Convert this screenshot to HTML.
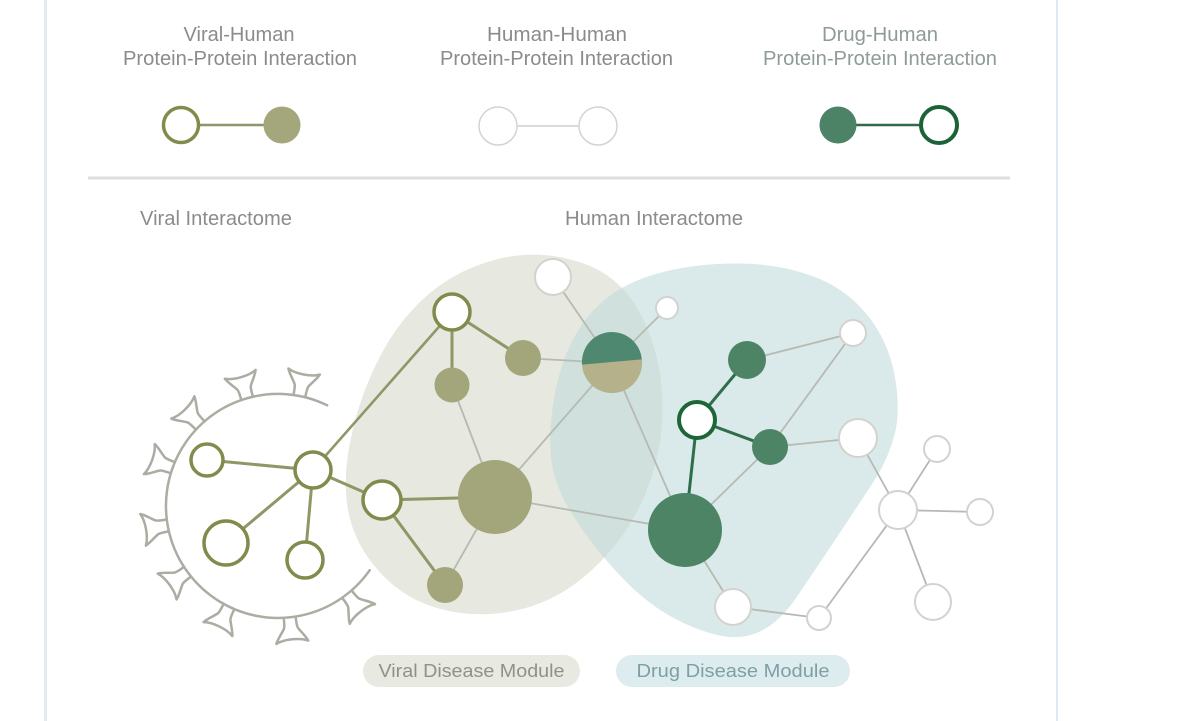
<!DOCTYPE html>
<html>
<head>
<meta charset="utf-8">
<style>
  html,body{margin:0;padding:0;background:#ffffff;}
  body{width:1200px;height:721px;overflow:hidden;}
  svg{display:block;}
  text{font-family:"Liberation Sans", Arial, sans-serif;}
</style>
</head>
<body>
<svg width="1200" height="721" viewBox="0 0 1200 721" xmlns="http://www.w3.org/2000/svg">
  <defs>
    <path id="spk" d="M -6,0 C -6,-5 -6,-9 -7,-11 C -10,-16 -14,-20 -16,-25 C -8,-21 8,-21 16,-25 C 14,-20 10,-16 7,-11 C 6,-9 6,-5 6,0"/>
  </defs>
  <rect x="0" y="0" width="1200" height="721" fill="#ffffff"/>
  <!-- frame lines -->
  <rect x="44" y="0" width="3" height="721" fill="#e4eaed"/>
  <rect x="1056" y="0" width="2" height="721" fill="#e0e8f1"/>

  <!-- Legend titles -->
  <g fill="#8b8b8b" font-size="20" text-anchor="middle">
    <text x="239" y="41" textLength="111" lengthAdjust="spacingAndGlyphs">Viral-Human</text>
    <text x="240" y="65" textLength="234" lengthAdjust="spacingAndGlyphs">Protein-Protein Interaction</text>
    <text x="557" y="41" textLength="140" lengthAdjust="spacingAndGlyphs">Human-Human</text>
    <text x="556.5" y="65" textLength="233" lengthAdjust="spacingAndGlyphs">Protein-Protein Interaction</text>
  </g>
  <g fill="#8e9b97" font-size="20" text-anchor="middle">
    <text x="880" y="41" textLength="116" lengthAdjust="spacingAndGlyphs">Drug-Human</text>
    <text x="880" y="65" textLength="234" lengthAdjust="spacingAndGlyphs">Protein-Protein Interaction</text>
  </g>

  <!-- Legend symbols -->
  <line x1="199" y1="125" x2="264" y2="125" stroke="#8d9668" stroke-width="2.5"/>
  <circle cx="181" cy="125" r="17.5" fill="#ffffff" stroke="#7f8c4c" stroke-width="3.5"/>
  <circle cx="282" cy="125" r="18.5" fill="#a3a77b"/>

  <line x1="517" y1="126" x2="579" y2="126" stroke="#cfcfcf" stroke-width="1.5"/>
  <circle cx="498" cy="126" r="19" fill="#ffffff" stroke="#d3d3d3" stroke-width="1.5"/>
  <circle cx="598" cy="126" r="19" fill="#ffffff" stroke="#d3d3d3" stroke-width="1.5"/>

  <line x1="856" y1="125" x2="920" y2="125" stroke="#2f6b48" stroke-width="2.5"/>
  <circle cx="838" cy="125" r="18.5" fill="#4c8265"/>
  <circle cx="939" cy="125" r="18" fill="#ffffff" stroke="#1b6236" stroke-width="4"/>

  <!-- separator -->
  <rect x="88" y="176.5" width="922" height="3" fill="#dedede"/>

  <!-- section labels -->
  <g fill="#8b8b8b" font-size="20">
    <text x="140" y="225" textLength="152" lengthAdjust="spacingAndGlyphs">Viral Interactome</text>
    <text x="565" y="225" textLength="178" lengthAdjust="spacingAndGlyphs">Human Interactome</text>
  </g>

  <!-- Modules (blobs) -->
  <path d="M 351,437.5 Q 360,395 380,356.5 Q 400,318 430,293 Q 460,268 500,258.5 Q 540,249 581,262.5 Q 622,276 642,317 Q 662,358 662.5,405 Q 663,452 645,494.5 Q 627,537 593.5,568.5 Q 560,600 520,609.5 Q 480,619 442.5,609.5 Q 405,600 380,572.5 Q 355,545 348.5,512.5 Q 342,480 351,437.5 Z" fill="#e7e8df"/>
  <path d="M 553,405 Q 558,370 571.5,342.5 Q 585,315 607.5,297.5 Q 630,280 665,271.5 Q 700,263 740,263.5 Q 780,264 812.5,276 Q 845,288 866.5,314 Q 888,340 894.5,375 Q 901,410 894.5,435 Q 888,460 871.5,485 Q 855,510 835,540 Q 815,570 797.5,596 Q 780,622 760,631.5 Q 740,641 715,634.5 Q 690,628 665,613 Q 640,598 614,569 Q 588,540 572,514 Q 556,488 552,464 Q 548,440 553,405 Z" fill="#c2dadb" fill-opacity="0.6"/>

  <!-- Virus ring -->
  <g fill="#ffffff" stroke="#aaac a0" stroke-width="2.5" stroke-linejoin="round" stroke-linecap="round">
  </g>
  <g fill="none" stroke="#abada2" stroke-width="2.5" stroke-linejoin="round" stroke-linecap="round">
    <path d="M 369.7,570.2 A 112 112 0 1 1 327.1,405.3"/>
    <g transform="translate(278,506)">
      <use href="#spk" transform="rotate(142) translate(0,-112)"/>
      <use href="#spk" transform="rotate(174) translate(0,-112)"/>
      <use href="#spk" transform="rotate(206) translate(0,-112)"/>
      <use href="#spk" transform="rotate(234) translate(0,-112)"/>
      <use href="#spk" transform="rotate(260) translate(0,-112)"/>
      <use href="#spk" transform="rotate(290) translate(0,-112)"/>
      <use href="#spk" transform="rotate(316) translate(0,-112)"/>
      <use href="#spk" transform="rotate(344) translate(0,-112)"/>
      <use href="#spk" transform="rotate(11) translate(0,-112)"/>
    </g>
  </g>

  <!-- Gray thin edges -->
  <g stroke="#b7bab3" stroke-width="1.8" fill="none">
    <line x1="553" y1="277" x2="612" y2="363"/>
    <line x1="523" y1="358" x2="612" y2="363"/>
    <line x1="452" y1="385" x2="495" y2="497"/>
    <line x1="495" y1="497" x2="612" y2="363"/>
    <line x1="495" y1="497" x2="685" y2="530"/>
    <line x1="445" y1="585" x2="495" y2="497"/>
    <line x1="612" y1="363" x2="667" y2="308"/>
    <line x1="612" y1="363" x2="685" y2="530"/>
    <line x1="747" y1="360" x2="853" y2="333"/>
    <line x1="853" y1="333" x2="770" y2="447"/>
    <line x1="770" y1="447" x2="858" y2="438"/>
    <line x1="685" y1="530" x2="770" y2="447"/>
    <line x1="858" y1="438" x2="898" y2="510"/>
    <line x1="898" y1="510" x2="937" y2="449"/>
    <line x1="898" y1="510" x2="980" y2="512"/>
    <line x1="898" y1="510" x2="933" y2="602"/>
    <line x1="898" y1="510" x2="819" y2="618"/>
    <line x1="819" y1="618" x2="733" y2="607"/>
    <line x1="733" y1="607" x2="685" y2="530"/>
  </g>

  <!-- Olive edges -->
  <g stroke="#8e9766" stroke-width="3" fill="none" stroke-linecap="round">
    <line x1="207" y1="460" x2="313" y2="470"/>
    <line x1="313" y1="470" x2="226" y2="543"/>
    <line x1="313" y1="470" x2="305" y2="560"/>
    <line x1="313" y1="470" x2="382" y2="500"/>
    <line x1="313" y1="470" x2="452" y2="312" stroke-width="2.6"/>
    <line x1="452" y1="312" x2="523" y2="358"/>
    <line x1="452" y1="312" x2="452" y2="385"/>
    <line x1="382" y1="500" x2="495" y2="497"/>
    <line x1="382" y1="500" x2="445" y2="585"/>
  </g>

  <!-- Dark green edges -->
  <g stroke="#2f6e4c" stroke-width="3" fill="none">
    <line x1="697" y1="420" x2="747" y2="360"/>
    <line x1="697" y1="420" x2="770" y2="447"/>
    <line x1="697" y1="420" x2="685" y2="530"/>
  </g>

  <!-- Virus nodes (open olive) -->
  <g fill="#ffffff" stroke="#7f8c4c" stroke-width="3.5">
    <circle cx="207" cy="460" r="16"/>
    <circle cx="313" cy="470" r="18"/>
    <circle cx="226" cy="543" r="22"/>
    <circle cx="305" cy="560" r="18"/>
    <circle cx="382" cy="500" r="19"/>
    <circle cx="452" cy="312" r="18"/>
  </g>

  <!-- Olive filled nodes -->
  <g fill="#a2a67a">
    <circle cx="523" cy="358" r="18"/>
    <circle cx="452" cy="385" r="17.5"/>
    <circle cx="495" cy="497" r="37"/>
    <circle cx="445" cy="585" r="18"/>
  </g>

  <!-- Split node -->
  <g transform="translate(612,363)">
    <circle cx="0" cy="0" r="30" fill="#b4b18b"/>
    <path transform="rotate(-5)" d="M -30,-1 A 30 30 0 0 1 30,-1 Z" fill="#4e8870"/>
  </g>

  <!-- Dark green filled nodes -->
  <g fill="#4d8466">
    <circle cx="747" cy="360" r="19"/>
    <circle cx="770" cy="447" r="18"/>
    <circle cx="685" cy="530" r="37"/>
  </g>
  <circle cx="697" cy="420" r="18" fill="#ffffff" stroke="#1d6638" stroke-width="4"/>

  <!-- Gray open nodes -->
  <g fill="#ffffff" stroke="#d2d3cf" stroke-width="2">
    <circle cx="553" cy="277" r="18"/>
    <circle cx="667" cy="308" r="11"/>
    <circle cx="853" cy="333" r="13"/>
    <circle cx="858" cy="438" r="19"/>
    <circle cx="937" cy="449" r="13"/>
    <circle cx="898" cy="510" r="19"/>
    <circle cx="980" cy="512" r="13"/>
    <circle cx="933" cy="602" r="18"/>
    <circle cx="733" cy="607" r="18"/>
    <circle cx="819" cy="618" r="12"/>
  </g>

  <!-- Module labels -->
  <rect x="363" y="655" width="217" height="32" rx="16" ry="16" fill="#e8e9e1"/>
  <text x="471.5" y="677" font-size="18" fill="#8f918a" text-anchor="middle" textLength="186" lengthAdjust="spacingAndGlyphs">Viral Disease Module</text>
  <rect x="616" y="655" width="234" height="32" rx="16" ry="16" fill="#dcecef"/>
  <text x="733" y="677" font-size="18" fill="#7f9fa3" text-anchor="middle" textLength="193" lengthAdjust="spacingAndGlyphs">Drug Disease Module</text>
</svg>
</body>
</html>
